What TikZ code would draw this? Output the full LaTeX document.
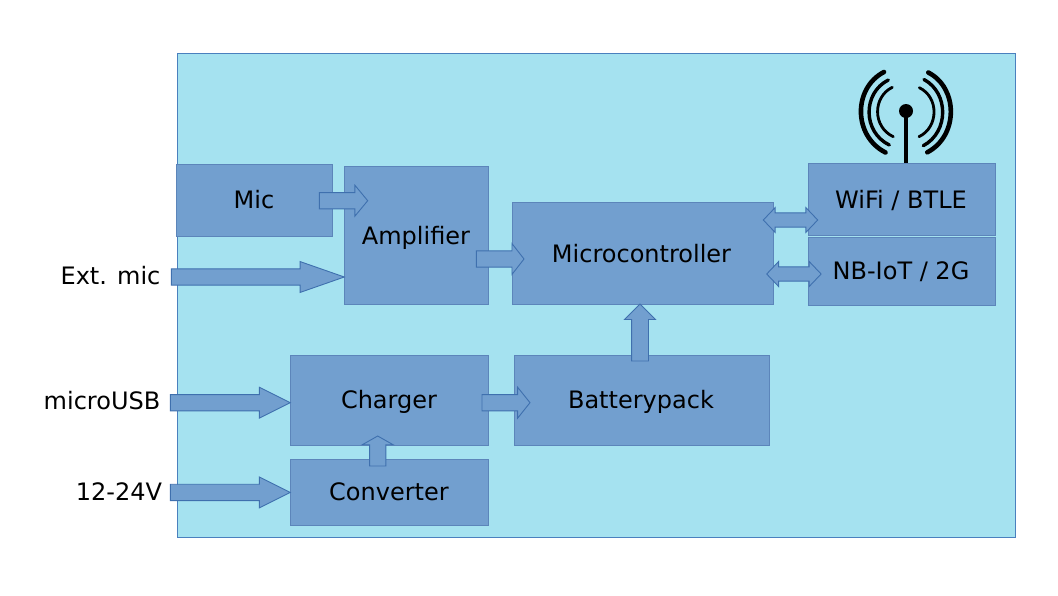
\documentclass[tikz,border=0pt]{standalone}
\usepackage{fontspec}
\setmainfont{DejaVu Sans}
\usetikzlibrary{shapes.arrows}
\definecolor{panelfill}{HTML}{A5E2F0}
\definecolor{boxfill}{HTML}{729FCF}
\definecolor{boxedge}{HTML}{3F70AE}
\definecolor{paneledge}{HTML}{4A80BE}
\tikzset{
  panel/.style={draw=paneledge,fill=panelfill,line width=1pt},
  blockbox/.style={draw=boxedge!85!white,fill=boxfill,line width=.9pt,inner sep=0pt,outer sep=0pt},
  txt/.style={anchor=base,inner sep=0pt,font=\fontsize{24}{28}\selectfont,text=black},
  sarrow/.style n args={4}{shape=single arrow,anchor=tip,draw=boxedge,fill=boxfill,line width=.9pt,inner xsep=0pt,inner ysep=7.7pt,outer sep=0pt,
    minimum height=#1,minimum width=#2,single arrow head extend=#3,single arrow tip angle=#4},
  darrow/.style n args={4}{shape=double arrow,draw=boxedge,fill=boxfill,line width=.9pt,inner xsep=0pt,inner ysep=6.7pt,outer sep=0pt,
    minimum height=#1,minimum width=#2,double arrow head extend=#3,double arrow tip angle=#4},
  ant1/.style={line width=4.6pt,line cap=round,draw=black},
  ant2/.style={line width=3.4pt,line cap=round,draw=black},
  ant3/.style={line width=2.8pt,line cap=round,draw=black},
}
\begin{document}
\begin{tikzpicture}[x=1pt,y=-1pt]
\useasboundingbox (0,0) rectangle (1058,595);
\draw[panel] (177,53) rectangle (1015,537.5);
% blocks
\node[blockbox,minimum width=156pt,minimum height=72pt] (mic) at (254.7,200) {};
\node[blockbox,minimum width=144.4pt,minimum height=138pt] (amp) at (416.5,235) {};
\node[blockbox,minimum width=261pt,minimum height=102pt] (mcu) at (642.5,253) {};
\node[blockbox,minimum width=255.5pt,minimum height=90pt] (bat) at (641.7,400) {};
\node[blockbox,minimum width=198.4pt,minimum height=90pt] (chg) at (389.5,400) {};
\node[blockbox,minimum width=198.4pt,minimum height=66pt] (cnv) at (389.5,492.3) {};
\node[blockbox,minimum width=186.6pt,minimum height=72pt] (wifi) at (902,199.3) {};
\node[blockbox,minimum width=186.6pt,minimum height=68pt] (nb) at (902,271.3) {};
% labels
\node[txt] (micT) at (254,208.8) {Mic};
\node[txt] (ampT) at (416,244) {Amplifier};
\node[txt] (mcuT) at (641.5,262) {Microcontroller};
\node[txt] (batT) at (641,408.5) {Batterypack};
\node[txt] (chgT) at (389,408.5) {Charger};
\node[txt] (cnvT) at (389,500.6) {Converter};
\node[txt] (wifiT) at (901,208.2) {WiFi / BTLE};
\node[txt] (nbT) at (901,279) {NB-IoT / 2G};
\node[txt] (extT) at (110.5,284) {Ext. mic};
\node[txt] (usbT) at (102,409) {microUSB};
\node[txt] (dcT) at (119,500) {12-24V};
% arrows
\node[sarrow={48.4pt}{30pt}{7.3pt}{100.8}] (a1) at (367.7,200.7) {};
\node[sarrow={173pt}{30pt}{7.3pt}{38.5}] (a2) at (344.3,277) {};
\node[sarrow={47.7pt}{30pt}{7.3pt}{104.1}] (a3) at (524,259) {};
\node[sarrow={120pt}{30pt}{7.3pt}{53.1}] (a4) at (290.3,402.7) {};
\node[sarrow={120pt}{30pt}{7.3pt}{53.1}] (a5) at (290.3,492.4) {};
\node[sarrow={48pt}{30pt}{7.3pt}{102.7}] (a6) at (530,402.7) {};
\node[sarrow={57pt}{30pt}{7pt}{90},rotate=90,inner ysep=8pt] (a7) at (640,304) {};
\node[sarrow={30pt}{30pt}{7.3pt}{121},rotate=90] (a8) at (377.7,436) {};
\node[darrow={54.4pt}{24pt}{5.3pt}{92.8}] (a9) at (790.5,220) {};
\node[darrow={54.4pt}{24pt}{5.3pt}{92.8}] (a10) at (793.9,274) {};
% antenna
\coordinate (mastTop) at (906,111);
\draw[line width=4.6pt] (mastTop) -- (wifi.north -| mastTop);
\fill (mastTop) circle (7);
\draw[ant1] (884,72) .. controls (853,88) and (853,136) .. (885.5,152.5);
\draw[ant2] (888.3,80) .. controls (862.5,93) and (862.5,132) .. (889.3,145);
\draw[ant3] (892.3,87.3) .. controls (872.5,97) and (872.5,127) .. (893.3,136.7);
\draw[ant1] (928.3,72.5) .. controls (958.5,88) and (958.5,136) .. (927.3,152.3);
\draw[ant2] (924,79.5) .. controls (949,93) and (949,132) .. (923.3,145.7);
\draw[ant3] (919.3,87.7) .. controls (939,97) and (939,127) .. (919,136.7);
\end{tikzpicture}
\end{document}
